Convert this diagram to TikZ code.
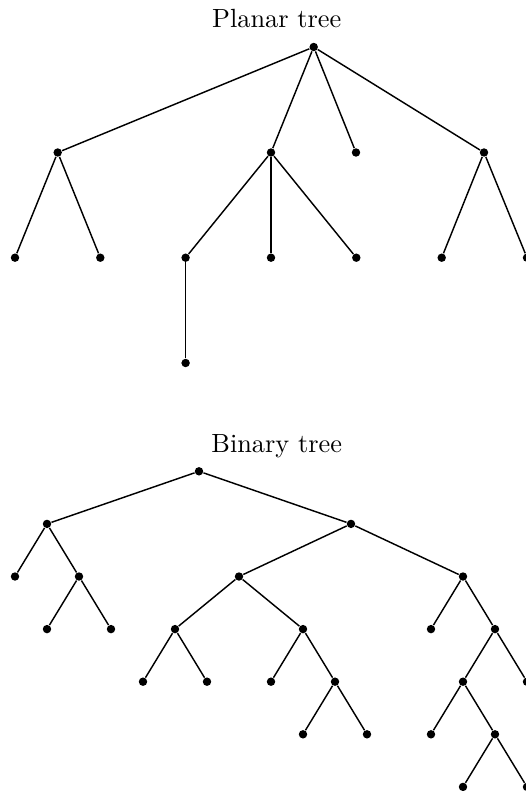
\documentclass[tikz,border=0pt]{standalone}
\begin{document}
\begin{tikzpicture}[x=0.38pt,y=-0.38pt,
  dot/.style={circle,fill=black,inner sep=0pt,minimum size=3.2pt},
  edge/.style={draw=black,line width=0.55pt},
  title/.style={anchor=base,inner sep=0pt}]
\useasboundingbox (0,0) rectangle (525,791);

% ---------- Planar tree ----------
\node[title] (ptitle) at (276.7,27.3) {Planar tree};
\node[dot] (p) at (313.7,47) {};
\node[dot] (pa) at (57.7,152.5) {};
\node[dot] (pb) at (271,152.5) {};
\node[dot] (pc) at (356,152.5) {};
\node[dot] (pd) at (484,152.5) {};
\node[dot] (pa1) at (15,257.7) {};
\node[dot] (pa2) at (100.3,257.7) {};
\node[dot] (pb1) at (185.6,257.7) {};
\node[dot] (pb2) at (271,257.7) {};
\node[dot] (pb3) at (356.3,257.7) {};
\node[dot] (pd1) at (441.7,257.7) {};
\node[dot] (pd2) at (527,257.7) {};
\node[dot] (pb11) at (185.6,363) {};
\foreach \u/\v in {p/pa,p/pb,p/pc,p/pd,pa/pa1,pa/pa2,pb/pb1,pb/pb2,pb/pb3,pd/pd1,pd/pd2,pb1/pb11}
  \draw[edge] (\u) -- (\v);

% ---------- Binary tree ----------
\node[title] (btitle) at (276.7,452.3) {Binary tree};
\node[dot] (b) at (199,471.3) {};
\node[dot] (bl) at (47,523.9) {};
\node[dot] (br) at (351,523.9) {};
\node[dot] (bll) at (15,576.5) {};
\node[dot] (blr) at (79,576.5) {};
\node[dot] (blrl) at (47,629.1) {};
\node[dot] (blrr) at (111,629.1) {};
\node[dot] (brl) at (239,576.5) {};
\node[dot] (brr) at (463,576.5) {};
\node[dot] (brll) at (175,629.1) {};
\node[dot] (brlr) at (303,629.1) {};
\node[dot] (brlll) at (143,681.7) {};
\node[dot] (brllr) at (207,681.7) {};
\node[dot] (brlrl) at (271,681.7) {};
\node[dot] (brlrr) at (335,681.7) {};
\node[dot] (brlrrl) at (303,734.3) {};
\node[dot] (brlrrr) at (367,734.3) {};
\node[dot] (brrl) at (431,629.1) {};
\node[dot] (brrr) at (495,629.1) {};
\node[dot] (brrrl) at (463,681.7) {};
\node[dot] (brrrr) at (527,681.7) {};
\node[dot] (brrrll) at (431,734.3) {};
\node[dot] (brrrlr) at (495,734.3) {};
\node[dot] (brrrlrl) at (463,786.9) {};
\node[dot] (brrrlrr) at (527,786.9) {};
\foreach \u/\v in {b/bl,b/br,bl/bll,bl/blr,blr/blrl,blr/blrr,br/brl,br/brr,
  brl/brll,brl/brlr,brll/brlll,brll/brllr,brlr/brlrl,brlr/brlrr,
  brlrr/brlrrl,brlrr/brlrrr,brr/brrl,brr/brrr,brrr/brrrl,brrr/brrrr,
  brrrl/brrrll,brrrl/brrrlr,brrrlr/brrrlrl,brrrlr/brrrlrr}
  \draw[edge] (\u) -- (\v);
\end{tikzpicture}
\end{document}
